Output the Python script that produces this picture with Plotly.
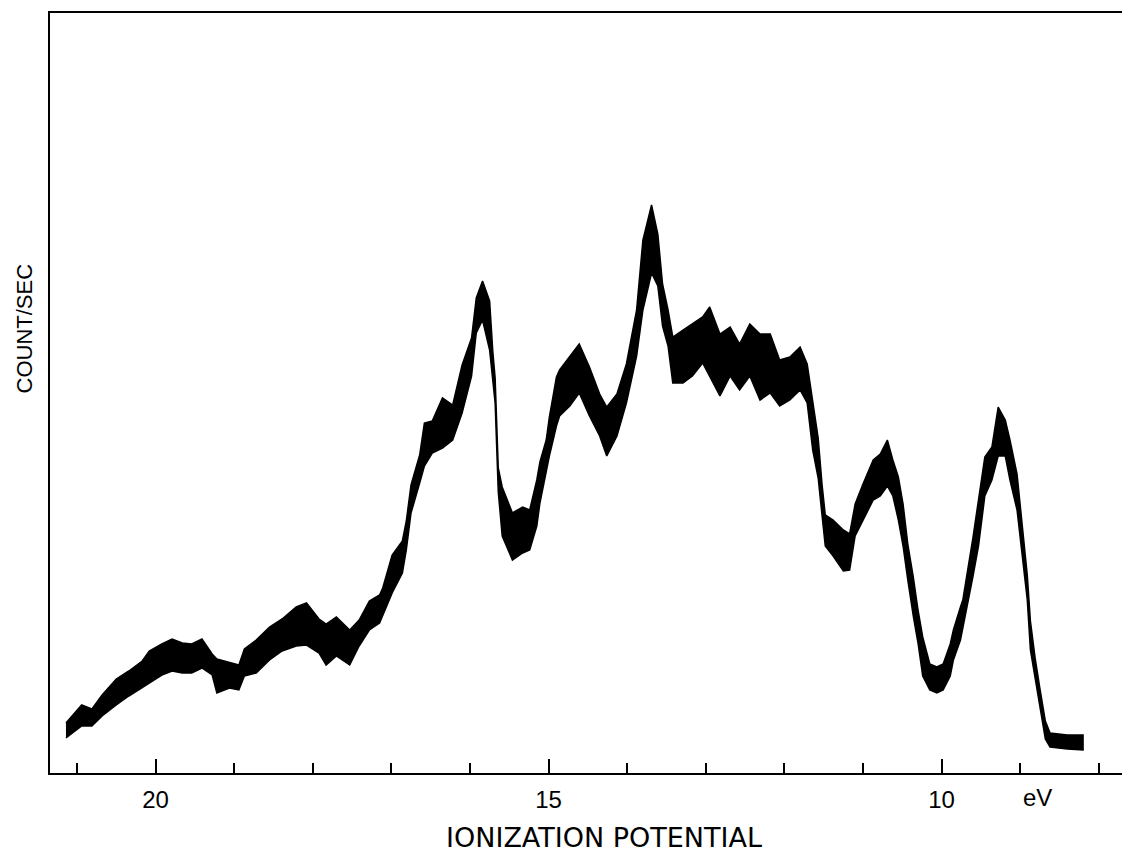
import plotly.graph_objects as go

# Ionization potential (eV) sample positions along the recorded trace
ev = [21.14, 20.94, 20.81, 20.68, 20.50, 20.34, 20.17, 20.08, 19.92, 19.79,
      19.66, 19.54, 19.41, 19.28, 19.22, 19.06, 18.94, 18.87, 18.72, 18.55,
      18.39, 18.21, 18.08, 17.92, 17.83, 17.70, 17.53, 17.41, 17.28, 17.15,
      17.11, 16.99, 16.86, 16.81, 16.75, 16.64, 16.58, 16.48, 16.35, 16.22,
      16.10, 15.98, 15.92, 15.84, 15.75, 15.71, 15.68, 15.64, 15.59, 15.46,
      15.33, 15.24, 15.15, 15.11, 15.03, 14.99, 14.90, 14.86, 14.73, 14.61,
      14.48, 14.35, 14.26, 14.13, 14.01, 13.88, 13.80, 13.69, 13.61, 13.55,
      13.48, 13.42, 13.29, 13.17, 13.04, 12.95, 12.82, 12.69, 12.57, 12.44,
      12.31, 12.18, 12.06, 11.93, 11.80, 11.71, 11.64, 11.57, 11.52, 11.48,
      11.38, 11.25, 11.17, 11.10, 11.00, 10.87, 10.78, 10.69, 10.62, 10.55,
      10.49, 10.43, 10.36, 10.30, 10.24, 10.15, 10.06, 9.98, 9.89, 9.85,
      9.76, 9.73, 9.60, 9.53, 9.45, 9.36, 9.28, 9.19, 9.13, 9.04,
      8.97, 8.91, 8.87, 8.81, 8.75, 8.68, 8.62, 8.40, 8.20]

# Upper edge of the (noisy) recorded band, count/sec (arbitrary units)
count_upper = [50, 68, 64, 78, 94, 102, 112, 122, 129, 134,
               130, 129, 134, 119, 114, 111, 108, 124, 133, 146,
               154, 166, 170, 154, 149, 156, 143, 153, 172, 178,
               185, 218, 232, 252, 288, 318, 350, 352, 375, 368,
               408, 435, 475, 492, 472, 422, 395, 305, 286, 260,
               266, 263, 293, 311, 333, 356, 396, 403, 416, 429,
               406, 379, 366, 379, 409, 463, 533, 568, 539, 489,
               463, 436, 443, 449, 456, 466, 439, 446, 429, 449,
               439, 439, 413, 416, 426, 409, 370, 335, 288, 258,
               253, 243, 239, 269, 289, 313, 319, 333, 313, 296,
               269, 229, 196, 163, 136, 109, 106, 109, 129, 143,
               166, 173, 236, 273, 316, 326, 366, 353, 333, 299,
               243, 198, 152, 115, 85, 52, 40, 38, 38]

# Lower edge of the recorded band
count_lower = [35, 47, 47, 57, 68, 77, 85, 90, 98, 102,
               100, 100, 105, 98, 80, 85, 83, 97, 100, 113,
               122, 127, 128, 120, 108, 117, 108, 127, 143, 150,
               157, 180, 200, 223, 260, 290, 307, 320, 325, 333,
               360, 397, 440, 453, 423, 390, 370, 281, 237, 213,
               220, 223, 247, 270, 300, 317, 347, 357, 367, 380,
               357, 337, 317, 337, 370, 417, 463, 500, 487, 447,
               427, 390, 390, 397, 410, 397, 377, 397, 383, 397,
               373, 380, 367, 373, 383, 370, 323, 295, 257, 227,
               217, 202, 203, 237, 253, 273, 277, 287, 277, 253,
               227, 193, 157, 130, 97, 83, 80, 83, 97, 113,
               133, 147, 197, 227, 277, 293, 317, 317, 293, 263,
               213, 173, 123, 93, 67, 34, 26, 24, 23]

poly_x = ev + ev[::-1]
poly_y = count_upper + count_lower[::-1]

fig = go.Figure()
fig.add_trace(go.Scatter(
    x=poly_x, y=poly_y, mode="lines", fill="toself",
    fillcolor="black", line=dict(color="black", width=1.5),
    hoverinfo="skip", showlegend=False))

fig.update_layout(
    width=1122, height=844,
    margin=dict(l=42, r=0, t=5, b=79),
    paper_bgcolor="white", plot_bgcolor="white",
    font=dict(family="Liberation Sans, Arial, sans-serif", color="black"),
    xaxis=dict(
        range=[21.343, 7.603], showgrid=False, zeroline=False,
        showline=True, linecolor="black", linewidth=2, mirror=True,
        ticks="inside", ticklen=14, tickwidth=2, tickcolor="black",
        tick0=0, dtick=5, ticklabelstandoff=4,
        tickfont=dict(size=24, color="black"),
        minor=dict(ticks="inside", ticklen=10, tickwidth=2,
                   tickcolor="black", dtick=1, tick0=0, showgrid=False),
    ),
    yaxis=dict(
        range=[0, 760], showgrid=False, zeroline=False,
        showline=True, linecolor="black", linewidth=2,
        ticks="", showticklabels=False,
    ),
    annotations=[
        dict(text="eV", xref="x", yref="paper", x=8.78, y=-0.0316,
             xanchor="center", yanchor="middle", showarrow=False,
             font=dict(size=24, color="black")),
        dict(text="IONIZATION POTENTIAL", xref="paper", yref="paper",
             x=0.513, y=-0.0855, xanchor="center", yanchor="middle",
             showarrow=False,
             font=dict(family="DejaVu Sans", size=27, color="black")),
        dict(text="COUNT/SEC", xref="paper", yref="paper",
             x=-0.024, y=0.585, xanchor="center", yanchor="middle",
             textangle=-90, showarrow=False,
             font=dict(size=22, color="black")),
    ],
)

fig.write_html("out.html")
